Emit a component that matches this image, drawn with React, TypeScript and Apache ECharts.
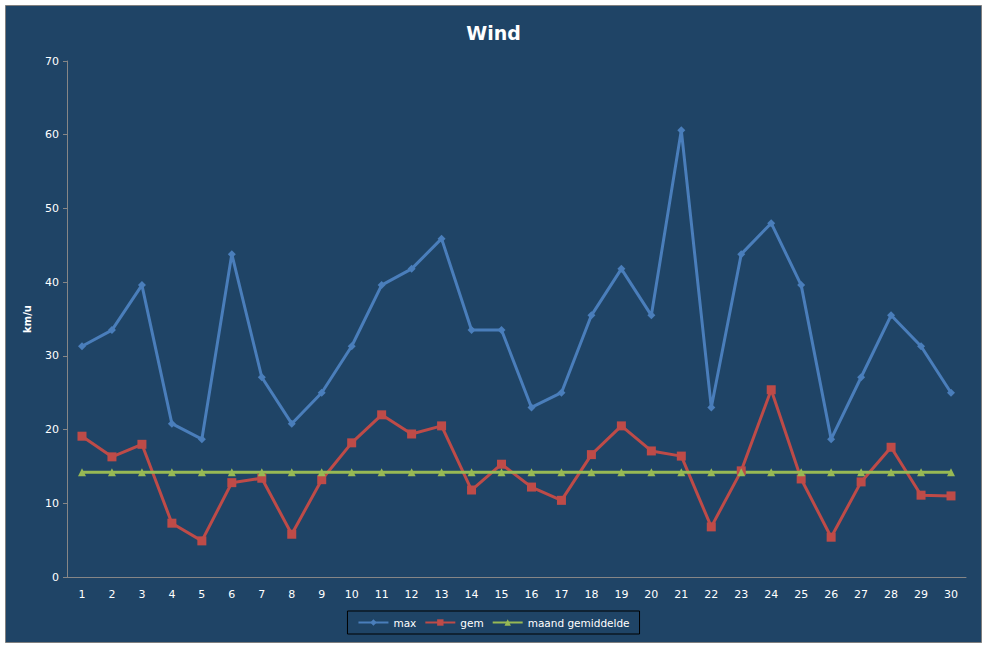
import * as echarts from "echarts";
import { useEffect, useRef } from "react";

const days = Array.from({ length: 30 }, (_, i) => String(i + 1));

const maxWind = [
  31.3, 33.5, 39.6, 20.8, 18.7, 43.8, 27.1, 20.8, 25.0, 31.3,
  39.6, 41.8, 45.9, 33.5, 33.5, 23.0, 25.0, 35.5, 41.8, 35.5,
  60.6, 23.0, 43.8, 48.0, 39.6, 18.7, 27.1, 35.5, 31.3, 25.0,
];

const avgWind = [
  19.1, 16.3, 18.0, 7.3, 4.9, 12.8, 13.4, 5.8, 13.2, 18.2,
  22.0, 19.4, 20.5, 11.8, 15.3, 12.2, 10.4, 16.6, 20.5, 17.1,
  16.4, 6.8, 14.4, 25.4, 13.3, 5.4, 12.9, 17.6, 11.1, 11.0,
];

const monthAvg = days.map(() => 14.2);

const font = "'DejaVu Sans', Verdana, sans-serif";

export default function App() {
  const ref = useRef<HTMLDivElement | null>(null);

  useEffect(() => {
    if (!ref.current) return;
    const chart = echarts.init(ref.current, undefined, { renderer: "svg" });

    chart.setOption({
      animation: false,
      backgroundColor: "#ffffff",
      textStyle: { fontFamily: font },
      graphic: [
        {
          type: "rect",
          z: -10,
          silent: true,
          shape: { x: 5.5, y: 5.5, width: 976, height: 637 },
          style: { fill: "#1f4466", stroke: "#7f7f7f", lineWidth: 1 },
        },
      ],
      title: {
        text: "Wind",
        left: "center",
        top: 18,
        textStyle: { color: "#ffffff", fontSize: 19, fontWeight: "bold", fontFamily: font },
      },
      legend: {
        bottom: 14,
        left: "center",
        itemWidth: 30,
        itemHeight: 8,
        itemGap: 8,
        padding: [6, 10, 6, 10],
        borderColor: "#000000",
        borderWidth: 1,
        textStyle: { color: "#ffffff", fontSize: 10.5, fontFamily: font },
        data: ["max", "gem", "maand gemiddelde"],
      },
      grid: { left: 67, right: 21, top: 61, bottom: 71 },
      xAxis: {
        type: "category",
        data: days,
        boundaryGap: true,
        axisLine: { lineStyle: { color: "#868686" } },
        axisTick: { lineStyle: { color: "#868686" }, length: 5 },
        axisLabel: { color: "#ffffff", fontSize: 11, margin: 12, fontFamily: font },
      },
      yAxis: {
        type: "value",
        min: 0,
        max: 70,
        interval: 10,
        name: "km/u",
        nameLocation: "middle",
        nameRotate: 90,
        nameGap: 35,
        nameTextStyle: { color: "#ffffff", fontSize: 10, fontWeight: "bold", fontFamily: font },
        axisLine: { show: true, lineStyle: { color: "#868686" } },
        axisTick: { show: true, lineStyle: { color: "#868686" }, length: 4 },
        axisLabel: { color: "#ffffff", fontSize: 11, margin: 8, fontFamily: font },
        splitLine: { show: false },
      },
      series: [
        {
          name: "max",
          type: "line",
          data: maxWind,
          symbol: "diamond",
          symbolSize: 8,
          itemStyle: { color: "#4a7ebb" },
          lineStyle: { color: "#4a7ebb", width: 3 },
        },
        {
          name: "gem",
          type: "line",
          data: avgWind,
          symbol: "rect",
          symbolSize: 9,
          itemStyle: { color: "#be4b48" },
          lineStyle: { color: "#be4b48", width: 3 },
        },
        {
          name: "maand gemiddelde",
          type: "line",
          data: monthAvg,
          symbol: "triangle",
          symbolSize: 8,
          itemStyle: { color: "#98b954" },
          lineStyle: { color: "#98b954", width: 3 },
        },
      ],
    });

    return () => chart.dispose();
  }, []);

  return (
    <div
      ref={ref}
      style={{ position: "fixed", left: 0, top: 0, width: 987, height: 648 }}
    />
  );
}
